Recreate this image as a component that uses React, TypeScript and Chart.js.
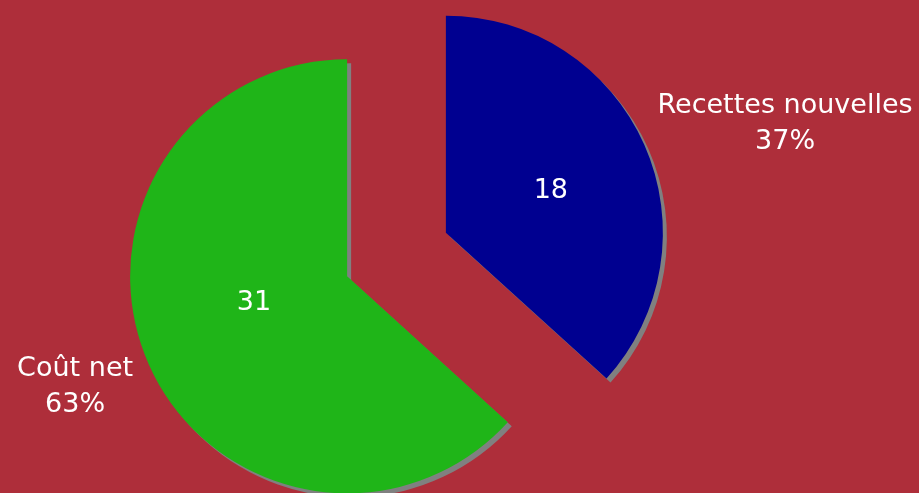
import React, { useEffect, useRef } from 'react';
import { Chart, registerables } from 'chart.js';

Chart.register(...registerables);

// ---- data ----
const categories = ['Recettes nouvelles', 'Coût net'];
const values = [18, 31];
const percentLabels = ['37%', '63%'];

// ---- styling ----
const sliceColors = ['#000090', '#1FB518'];
const backgroundColor = '#AE2E3A';
const shadowColor = '#808080';
const FONT_SIZE = 27;
const FONT = `${FONT_SIZE}px "DejaVu Sans", Verdana, sans-serif`;
const EXPLODE = 54;
const PIE_RADIUS = 217;
// label placement relative to each slice's apex: distance factor of radius, angle tweak (deg)
const innerLabelPlacement = [
  { factor: 0.526, delta: 0.7 },
  { factor: 0.443, delta: 9.4 },
];
const outerLabelPlacement = [
  { factor: 1.645, delta: 5.7 },
  { factor: 1.349, delta: 2.2 },
];
const LINE_HEIGHT = 36;

const explodePlugin = {
  id: 'explodeWithShadow',
  beforeDatasetDraw(chart: any, args: any) {
    const ctx = chart.ctx;
    const meta = args.meta;
    ctx.save();
    ctx.shadowColor = shadowColor;
    ctx.shadowBlur = 0;
    ctx.shadowOffsetX = 4;
    ctx.shadowOffsetY = 4;
    meta.data.forEach((arc: any) => {
      const mid = (arc.startAngle + arc.endAngle) / 2;
      ctx.save();
      ctx.translate(Math.cos(mid) * EXPLODE, Math.sin(mid) * EXPLODE);
      arc.draw(ctx, chart.chartArea);
      ctx.restore();
    });
    ctx.restore();
    return false;
  },
};

const labelPlugin = {
  id: 'sliceLabels',
  afterDatasetsDraw(chart: any) {
    const ctx = chart.ctx;
    const meta = chart.getDatasetMeta(0);
    ctx.save();
    ctx.fillStyle = '#ffffff';
    ctx.font = FONT;
    ctx.textAlign = 'center';
    ctx.textBaseline = 'alphabetic';
    const capH = ctx.measureText('0').actualBoundingBoxAscent;
    meta.data.forEach((arc: any, i: number) => {
      const mid = (arc.startAngle + arc.endAngle) / 2;
      const ax = arc.x + Math.cos(mid) * EXPLODE;
      const ay = arc.y + Math.sin(mid) * EXPLODE;
      const R = arc.outerRadius;
      const inner = innerLabelPlacement[i];
      const ia = mid + (inner.delta * Math.PI) / 180;
      const ix = ax + Math.cos(ia) * R * inner.factor;
      const iy = ay + Math.sin(ia) * R * inner.factor;
      ctx.fillText(String(values[i]), ix, iy + capH / 2);
      const outer = outerLabelPlacement[i];
      const oa = mid + (outer.delta * Math.PI) / 180;
      const ox = ax + Math.cos(oa) * R * outer.factor;
      const oy = ay + Math.sin(oa) * R * outer.factor;
      ctx.fillText(categories[i], ox, oy - LINE_HEIGHT / 2 + capH / 2);
      ctx.fillText(percentLabels[i], ox, oy + LINE_HEIGHT / 2 + capH / 2);
    });
    ctx.restore();
  },
};

export default function App() {
  const canvasRef = useRef<HTMLCanvasElement | null>(null);

  useEffect(() => {
    if (!canvasRef.current) return;
    const chart = new Chart(canvasRef.current, {
      type: 'pie',
      data: {
        labels: categories,
        datasets: [
          {
            data: values,
            backgroundColor: sliceColors,
            borderWidth: 0,
            offset: 0,
          },
        ],
      },
      options: {
        responsive: false,
        animation: false,
        radius: PIE_RADIUS,
        layout: { padding: { left: 0, right: 126, top: 16, bottom: 0 } },
        plugins: {
          legend: { display: false },
          tooltip: { enabled: false },
        },
      } as any,
      plugins: [explodePlugin, labelPlugin],
    });
    return () => chart.destroy();
  }, []);

  return (
    <div
      style={{
        position: 'absolute',
        left: 0,
        top: 0,
        width: 919,
        height: 493,
        background: backgroundColor,
        overflow: 'hidden',
      }}
    >
      <canvas ref={canvasRef} width={919} height={493} style={{ display: 'block' }} />
    </div>
  );
}
